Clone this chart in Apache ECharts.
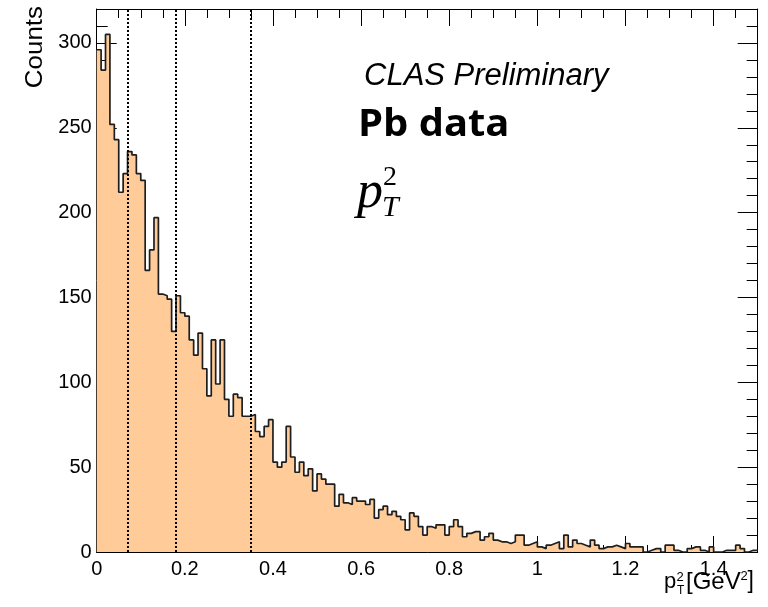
<!DOCTYPE html>
<html>
<head>
<meta charset="utf-8">
<script src="https://cdn.jsdelivr.net/npm/echarts@6/dist/echarts.min.js"></script>
<style>html,body{margin:0;padding:0;background:#fff;}#c{width:768px;height:607px;}</style>
</head>
<body>
<div id="c"></div>
<script>
// Histogram: 150 bins of width 0.01 GeV^2 from 0 to 1.5
const binWidth = 0.01;
const binStart = 0;
const counts = [
  296, 284, 305, 252, 243, 212, 223, 236, 234, 223,
  219, 166, 178, 197, 152, 151, 149, 130, 151, 141,
  139, 125, 116, 129, 108, 92, 125, 99, 125, 90,
  80, 93, 91, 80, 80, 81, 71, 68, 74, 78,
  53, 50, 53, 74, 56, 47, 53, 45, 49, 36,
  46, 43, 40, 40, 27, 34, 29, 28, 32, 30,
  30, 28, 31, 20, 25, 27, 22, 24, 21, 19,
  13, 23, 21, 15, 10, 15, 14, 16, 16, 10,
  15, 19, 15, 9, 11, 12, 12, 7, 9, 11,
  7, 6, 6, 5, 6, 10, 10, 4, 5, 6,
  3, 2, 4, 5, 6, 2, 10, 3, 7, 5,
  4, 3, 7, 4, 2, 3, 3, 4, 3, 2,
  5, 3, 3, 3, 0, 1, 2, 2, 0, 4,
  4, 1, 0, 0, 2, 3, 3, 1, 0, 3,
  0, 0, 1, 1, 1, 4, 2, 0, 1, 1
];
const binCuts = [0.074, 0.178, 0.353];
const xTickLabels = ['0', '0.2', '0.4', '0.6', '0.8', '1', '1.2', '1.4'];
const yTickLabels = ['0', '50', '100', '150', '200', '250', '300'];
const xMin = 0, xMax = 1.5, xMajor = 0.2, xMinor = 0.05;
const yMin = 0, yMax = 320, yMajor = 50, yMinor = 10;

// step data built from bins
const stepData = counts.map((v, i) => [+(binStart + i * binWidth).toFixed(4), v]);
stepData.push([+(binStart + counts.length * binWidth).toFixed(4), counts[counts.length - 1]]);

const chart = echarts.init(document.getElementById('c'), null, {renderer: 'canvas'});
const labelFont = {fontFamily: 'Liberation Sans', fontSize: 20, color: '#000'};
function xAx(pos, interval, len, labels, line) {
  return {
    type: 'value', position: pos, min: xMin, max: xMax, interval: interval,
    axisLine: {show: line, onZero: false, lineStyle: {color: '#000', width: 1}},
    axisTick: {show: true, inside: true, length: len, lineStyle: {color: '#000', width: 1}},
    axisLabel: labels ? Object.assign({show: true, margin: 7, showMaxLabel: false,
      formatter: v => { const k = Math.round(v / xMajor); return xTickLabels[k] !== undefined && Math.abs(v - k * xMajor) < 1e-6 ? xTickLabels[k] : ''; }}, labelFont) : {show: false},
    splitLine: {show: false}
  };
}
function yAx(pos, interval, len, labels, line) {
  return {
    type: 'value', position: pos, min: yMin, max: yMax, interval: interval,
    axisLine: {show: line, onZero: false, lineStyle: {color: '#000', width: 1}},
    axisTick: {show: true, inside: true, length: len, lineStyle: {color: '#000', width: 1}},
    axisLabel: labels ? Object.assign({show: true, margin: 5, showMaxLabel: false, padding: [6, 0, 0, 0],
      formatter: v => { const k = Math.round(v / yMajor); return yTickLabels[k] !== undefined && Math.abs(v - k * yMajor) < 1e-6 ? yTickLabels[k] : ''; }}, labelFont) : {show: false},
    splitLine: {show: false}
  };
}

const option = {
  animation: false,
  backgroundColor: '#fff',
  grid: {left: 96.7, right: 10.3, top: 9, bottom: 55, containLabel: false},
  xAxis: [
    xAx('bottom', xMajor, 16, true, true),
    xAx('bottom', xMinor, 7, false, false),
    xAx('top', xMajor, 17, false, true),
    xAx('top', xMinor, 9, false, false)
  ],
  yAxis: [
    yAx('left', yMajor, 20, true, true),
    yAx('left', yMinor, 11, false, false),
    yAx('right', yMajor, 20, false, true),
    yAx('right', yMinor, 11, false, false)
  ],
  series: [{
    type: 'line',
    xAxisIndex: 0, yAxisIndex: 0,
    step: 'end',
    data: stepData,
    showSymbol: false,
    lineStyle: {color: '#1e1e1e', width: 1.7},
    areaStyle: {color: '#ffcc99', opacity: 1},
    z: 1,
    markLine: {
      silent: true, symbol: 'none',
      label: {show: false},
      lineStyle: {type: [2, 2], color: '#000', width: 2},
      data: binCuts.map(c => ({xAxis: c}))
    }
  }],
  graphic: [
    {type: 'text', x: 35, y: 6, rotation: Math.PI / 2, scaleX: 1.08,
     style: {text: 'Counts', font: '24px "Liberation Sans"', fill: '#000', align: 'right', verticalAlign: 'middle'}},
    {type: 'text', x: 364, y: 76,
     style: {text: 'CLAS Preliminary', font: 'italic 31px "Liberation Sans"', fill: '#000', align: 'left', verticalAlign: 'middle'}},
    {type: 'text', x: 358, y: 125.5, scaleX: 1.05,
     style: {text: 'Pb data', font: 'bold 38px "Open Sans"', fill: '#000', align: 'left', verticalAlign: 'middle'}},
    {type: 'text', x: 357, y: 193,
     style: {text: 'p', font: 'italic 52px "Liberation Serif"', fill: '#000', align: 'left', verticalAlign: 'middle'}},
    {type: 'text', x: 383, y: 178,
     style: {text: '2', font: '28px "Liberation Serif"', fill: '#000', align: 'left', verticalAlign: 'middle'}},
    {type: 'text', x: 382, y: 208,
     style: {text: 'T', font: 'italic 30px "Liberation Serif"', fill: '#000', align: 'left', verticalAlign: 'middle'}},
    {type: 'text', x: 664, y: 582,
     style: {text: 'p', font: '22px "Liberation Sans"', fill: '#000', align: 'left', verticalAlign: 'middle'}},
    {type: 'text', x: 676.5, y: 577,
     style: {text: '2', font: '13px "Liberation Sans"', fill: '#000', align: 'left', verticalAlign: 'middle'}},
    {type: 'text', x: 677, y: 591,
     style: {text: 'T', font: '12px "Liberation Sans"', fill: '#000', align: 'left', verticalAlign: 'middle'}},
    {type: 'text', x: 686, y: 582,
     style: {text: '[GeV', font: '24px "Liberation Sans"', fill: '#000', align: 'left', verticalAlign: 'middle'}},
    {type: 'text', x: 740.5, y: 576,
     style: {text: '2', font: '13px "Liberation Sans"', fill: '#000', align: 'left', verticalAlign: 'middle'}},
    {type: 'text', x: 747.5, y: 582,
     style: {text: ']', font: '23px "Liberation Sans"', fill: '#000', align: 'left', verticalAlign: 'middle'}}
  ]
};
chart.setOption(option);
</script>
</body>
</html>
